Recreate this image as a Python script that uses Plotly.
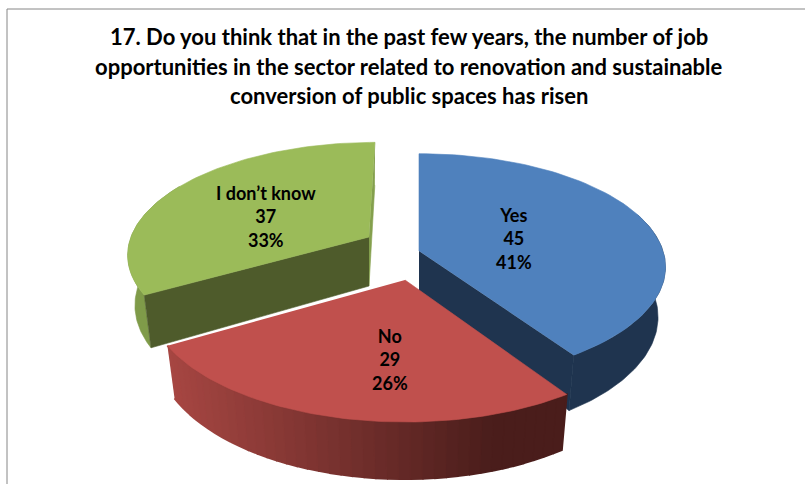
import numpy as np
import plotly.graph_objects as go

categories = ["Yes", "No", "I don\u2019t know"]
values = [45, 29, 37]
title_lines = [
    "17. Do you think that in the past few years, the number of job",
    "opportunities in the sector related to renovation and sustainable",
    "conversion of public spaces has risen",
]

W, H = 805, 484
FONT = "Lato"
TOP = ["#4F81BD", "#C0504D", "#9BBB59"]
# slice placement on the canvas: apex x, apex y, half-width, half-height, skew
GEOM = [(419, 251, 244, 111, 0), (405, 280, 255, 122, 0), (369, 237, 238, 108, 6)]
LABEL_POS = [(514, 238), (390, 359), (266, 216)]
PERSP, DEPTH, SHRINK = 0.141, 49, 0.97

total = sum(values)
edges = np.concatenate([[0], np.cumsum(values)]) / total * 2 * np.pi


def top_pt(i, t):
    ax, ay, b, a, s = GEOM[i]
    X, Y = np.sin(t), np.cos(t)
    p = 1 / (1 + PERSP * Y)
    return ax + b * X * p + s * Y, ay - a * Y * p


def bot_pt(i, t):
    ax = GEOM[i][0]
    x, y = top_pt(i, t)
    p = 1 / (1 + PERSP * np.cos(t))
    return ax + SHRINK * (x - ax), y + DEPTH * p


def apex(i):
    return GEOM[i][0], GEOM[i][1]


def apex_bot(i):
    return GEOM[i][0], GEOM[i][1] + DEPTH


fig = go.Figure()


def poly(pts, color, name=None, width=0.6):
    xs = [p[0] for p in pts]
    ys = [p[1] for p in pts]
    fig.add_trace(go.Scatter(
        x=xs, y=ys, mode="lines", fill="toself", fillcolor=color,
        line=dict(color=color, width=width),
        hoverinfo="skip" if name is None else "name", name=name or "", showlegend=False,
    ))


def arc(i, t0, t1, fn=top_pt, n=80):
    return [fn(i, t) for t in np.linspace(t0, t1, n)]


def mix(c0, c1, f):
    a = np.array(c0) + (np.array(c1) - np.array(c0)) * f
    return "rgb(%d,%d,%d)" % tuple(a.round().astype(int))


# green slice
i = 2
t0, t1 = edges[2], edges[3]
poly(arc(i, t0, np.radians(300)) + arc(i, np.radians(300), t0, bot_pt), "#7F9B49")
poly([top_pt(i, t1), apex(i), apex_bot(i), bot_pt(i, t1)], "#84A04D")
poly([apex(i), top_pt(i, t0), bot_pt(i, t0), apex_bot(i)], "#4E5B2B")
poly([apex(i)] + arc(i, t0, t1), TOP[i], categories[i])

# blue slice
i = 0
t0, t1 = edges[0], edges[1]
poly(arc(i, np.radians(70), t1) + arc(i, t1, np.radians(70), bot_pt), "#1F344F")
poly([apex(i), top_pt(i, t1), bot_pt(i, t1), apex_bot(i)], "#1F344F")
poly([apex(i)] + arc(i, t0, t1), TOP[i], categories[i])

# red slice: outer wall shaded in strips
i = 1
t0, t1 = edges[1], edges[2]
strips = np.linspace(t1, t0, 41)
x_left = top_pt(i, t1)[0]
x_right = top_pt(i, t0)[0]
for s0, s1 in zip(strips[:-1], strips[1:]):
    f = (top_pt(i, s0)[0] - x_left) / (x_right - x_left)
    col = mix((166, 70, 66), (74, 29, 27), min(f * 1.25, 1))
    poly([top_pt(i, s0), top_pt(i, s1), bot_pt(i, s1), bot_pt(i, s0)], col, width=2)
poly([apex(i)] + arc(i, t0, t1), TOP[i], categories[i])

# labels
for name, v, (x, y) in zip(categories, values, LABEL_POS):
    fig.add_annotation(
        x=x, y=y, xref="x", yref="y", showarrow=False,
        text=f"<b>{name}</b><br><b>{v}</b><br><b>{round(v / total * 100)}%</b>",
        font=dict(family=FONT, size=18, color="#000000"), align="center",
    )

# title
for line, y in zip(title_lines, (36, 66, 95)):
    fig.add_annotation(
        x=409, y=y, xref="x", yref="y", showarrow=False, text=f"<b>{line}</b>",
        font=dict(family=FONT, size=22, color="#000000"),
    )

# chart frame
fig.add_shape(type="rect", x0=7, y0=9, x1=W + 10, y1=H + 10, xref="x", yref="y",
              line=dict(color="#868686", width=1), fillcolor="rgba(0,0,0,0)")

fig.update_layout(
    width=W, height=H, margin=dict(l=0, r=0, t=0, b=0),
    paper_bgcolor="white", plot_bgcolor="white", showlegend=False,
    xaxis=dict(range=[0, W], visible=False, fixedrange=True),
    yaxis=dict(range=[H, 0], visible=False, fixedrange=True),
)
fig.write_html("out.html", config={"displayModeBar": False},
               post_script="document.body.style.margin='0';document.body.style.overflow='hidden';")
